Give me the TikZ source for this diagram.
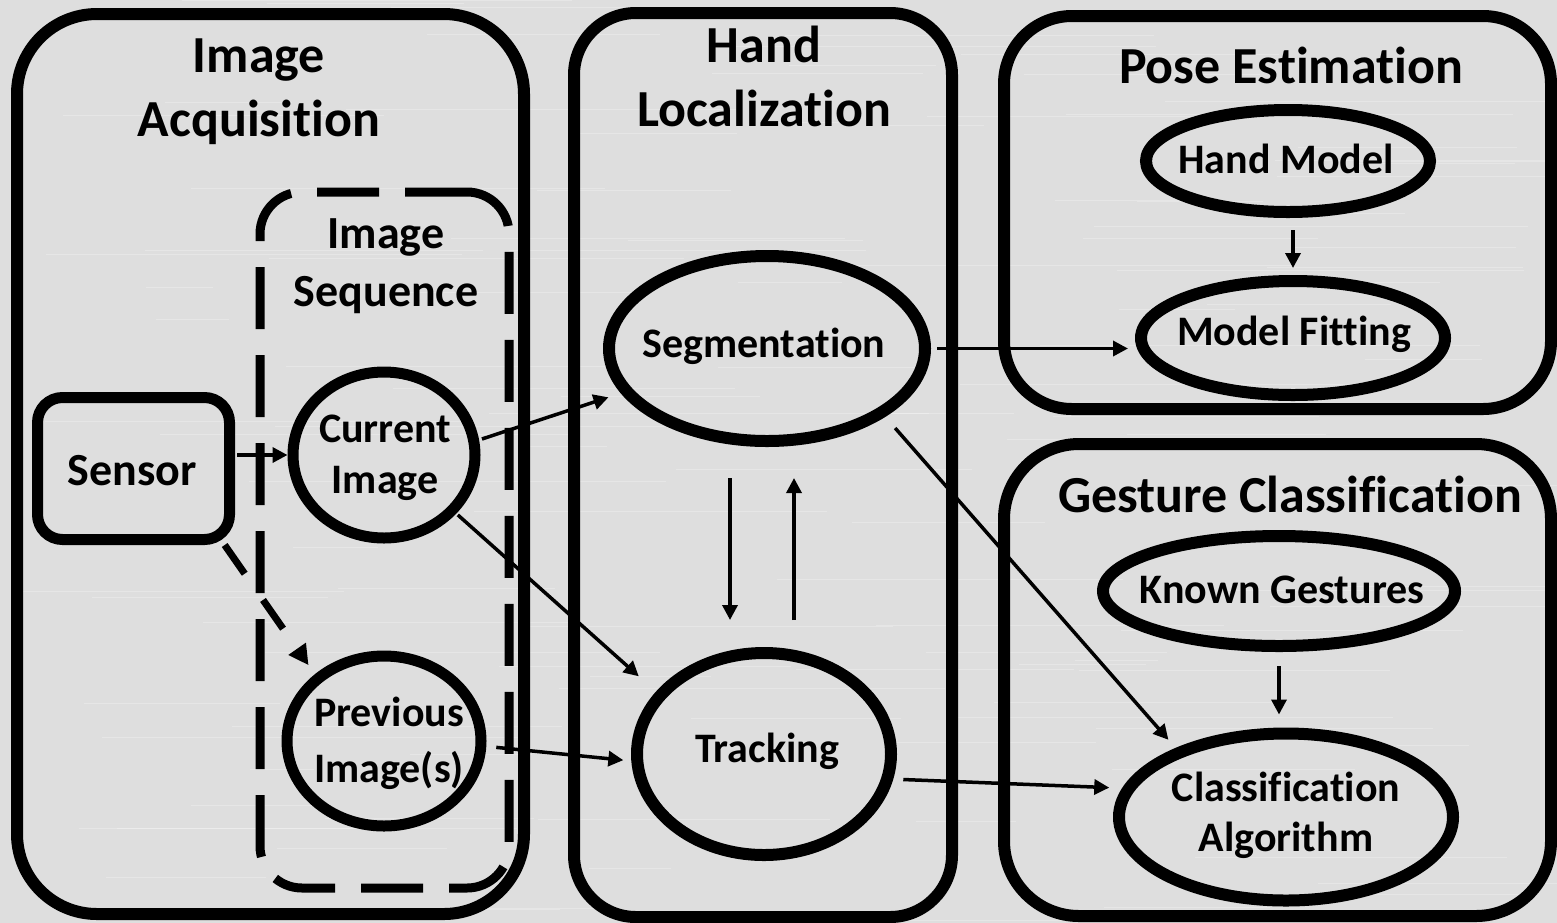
\documentclass[tikz,border=0pt]{standalone}
\usepackage{fontspec}
\setmainfont{Carlito}[Ligatures=NoCommon]
\usetikzlibrary{arrows.meta,shapes.geometric,calc}
\begin{document}
\begin{tikzpicture}[x=1pt,y=-1pt,
  grp/.style={draw, rectangle, line width=12pt, inner sep=0pt},
  seqbox/.style={draw, rectangle, line width=9pt, inner sep=0pt, dash pattern=on 62pt off 26pt},
  ell/.style={draw, ellipse, line width=12pt, inner sep=0pt},
  ttl/.style={font=\fontsize{52}{64}\selectfont\bfseries, align=center, inner sep=0pt},
  lbl/.style={font=\fontsize{42}{51}\selectfont\bfseries, align=center, inner sep=0pt},
  arr/.style={line width=3.5pt, -{Triangle[length=15pt,width=15pt]}},
  darr/.style={line width=7pt, dash pattern=on 35pt off 32pt, -{Triangle[length=20pt,width=20pt]}},
  streak/.style={line width=0.8pt, white, opacity=0.25}
]
\useasboundingbox (0,0) rectangle (1557,922);
\shade[left color=black!13, middle color=black!6, right color=black!13] (0,0) rectangle (1557,922);
\pgfmathsetseed{7}
\foreach \i in {1,...,120}{
  \pgfmathsetmacro{\yy}{rnd*922}
  \pgfmathsetmacro{\xa}{rnd*1400}
  \pgfmathsetmacro{\ll}{60+rnd*400}
  \draw[streak] (\xa,\yy) -- ++(\ll,0);
}

% group boxes
\node[grp, rounded corners=80pt, minimum width=507pt, minimum height=900pt] (acq) at (270.5,464) {};
\node[grp, rounded corners=62pt, minimum width=378pt, minimum height=904pt] (loc) at (763,465) {};
\node[grp, rounded corners=68pt, minimum width=547pt, minimum height=393pt] (pose) at (1277.5,212.5) {};
\node[grp, rounded corners=75pt, minimum width=547pt, minimum height=472pt] (gest) at (1277.5,680) {};
\node[seqbox, rounded corners=42pt, minimum width=249pt, minimum height=696pt] (seq) at (384.5,540) {};

% titles
\node[ttl] (acqT) at (259,92) {Image\\Acquisition};
\node[ttl] (locT) at (764,76) {Hand\\Localization};
\node[ttl, anchor=base] (poseT) at (1291,83) {Pose Estimation};
\node[ttl, anchor=base] (gestT) at (1290,512) {Gesture Classification};
\node[font=\fontsize{46}{58}\selectfont\bfseries, align=center, inner sep=0pt] (seqT) at (386,266) {Image\\Sequence};

% nodes
\node[draw, rectangle, rounded corners=25pt, line width=11pt, inner sep=0pt, minimum width=192pt, minimum height=142pt] (sen) at (133.5,468.5) {};
\node[font=\fontsize{46}{56}\selectfont\bfseries, inner sep=0pt, anchor=base] (senT) at (132,485) {Sensor};

\node[ell, line width=11pt, minimum width=182pt, minimum height=166pt] (cur) at (384,455) {};
\node[lbl] (curT) at (385,458) {Current\\Image};
\node[ell, line width=11pt, minimum width=194pt, minimum height=170pt] (prev) at (384,741) {};
\node[lbl, font=\fontsize{42}{56}\selectfont\bfseries] (prevT) at (389,743) {Previous\\Image(s)};

\node[ell, minimum width=316pt, minimum height=185pt] (seg) at (767,348.5) {};
\node[lbl, anchor=base] (segT) at (764,357) {Segmentation};
\node[ell, minimum width=254pt, minimum height=202pt] (trk) at (764,754) {};
\node[lbl, anchor=base] (trkT) at (767,762) {Tracking};

\node[ell, minimum width=284pt, minimum height=102pt] (hm) at (1288,161) {};
\node[lbl, anchor=base] (hmT) at (1286,173) {Hand Model};
\node[ell, minimum width=304pt, minimum height=114pt] (mf) at (1293,338) {};
\node[lbl, anchor=base] (mfT) at (1294,345) {Model Fitting};

\node[ell, minimum width=352pt, minimum height=110pt] (kg) at (1279,591) {};
\node[lbl, anchor=base] (kgT) at (1282,603) {Known Gestures};
\node[ell, minimum width=334pt, minimum height=167pt] (cls) at (1286,817) {};
\node[lbl, font=\fontsize{42}{50}\selectfont\bfseries] (clsT) at (1286,815) {Classification\\Algorithm};

% connectors
\draw[arr, shorten <=2pt] (sen.east |- cur.west) -- (cur.west);
\draw[darr, shorten >=11pt] (sen.-40) -- (prev.136);
\draw[arr, shorten <=3pt, shorten >=13pt] (cur.9) -- (seg.197);
\draw[arr, shorten <=2pt, shorten >=23pt] (cur.-39) -- (trk.150);
\draw[arr, shorten <=10pt, shorten >=8pt] (prev.-3) -- (trk.183);
\draw[arr, shorten <=31pt, shorten >=27pt] ([xshift=-37pt]seg.south) -- ([xshift=-37pt]seg.south |- trk.north);
\draw[arr, shorten <=27pt, shorten >=31pt] ([xshift=27pt]seg.south |- trk.north) -- ([xshift=27pt]seg.south);
\draw[arr, shorten <=6pt, shorten >=7pt] (seg.east) -- (seg.east -| mf.west);
\draw[arr, shorten <=15pt, shorten >=11pt] (seg.-30) -- (cls.148);
\draw[arr, shorten <=10pt, shorten >=13pt] (trk.-11) -- (cls.170);
\draw[arr, shorten <=12pt, shorten >=7pt] ([xshift=5pt]hm.south) -- ([xshift=5pt]hm.south |- mf.north);
\draw[arr, shorten <=14pt, shorten >=13pt] (kg.south) -- (kg.south |- cls.north);
\end{tikzpicture}
\end{document}
